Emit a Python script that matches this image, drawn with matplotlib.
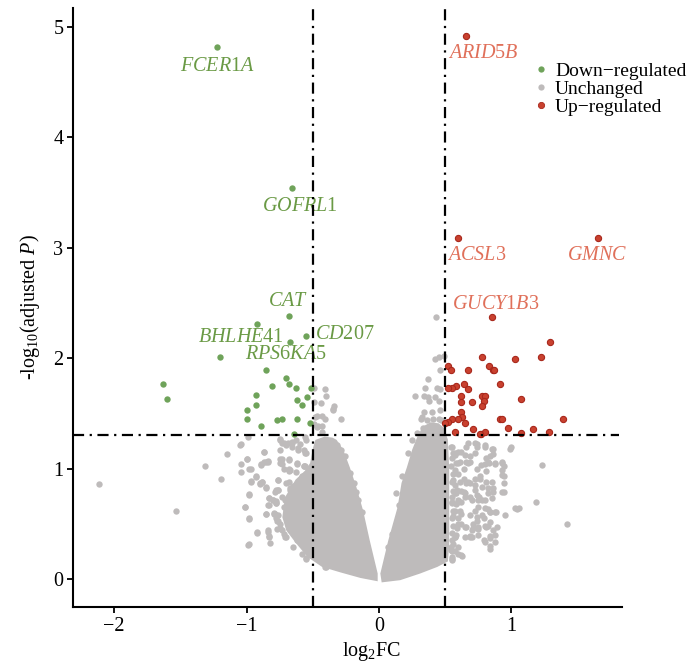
import numpy as np
import matplotlib
matplotlib.use("Agg")
import matplotlib.pyplot as plt
from matplotlib.lines import Line2D

plt.rcParams['font.family'] = ['Liberation Serif', 'DejaVu Serif']
plt.rcParams['mathtext.fontset'] = 'custom'
plt.rcParams['mathtext.rm'] = 'Liberation Serif'
plt.rcParams['mathtext.it'] = 'Liberation Serif:italic'
plt.rcParams['mathtext.bf'] = 'Liberation Serif:bold'

# significant genes (log2FC, -log10 adjusted P)
down_x = [-1.22, -0.66, -0.68, -0.92, -0.55, -0.67, -1.20, -0.85, -0.70, -0.68, -1.63,
          -0.81, -0.63, -0.51, -0.93, -0.54, -1.60, -0.62, -0.93, -0.58, -1.00, -1.00,
          -0.77, -0.73, -0.62, -0.89, -0.52, -0.64]
down_y = [4.82, 3.54, 2.38, 2.31, 2.20, 2.15, 2.01, 1.89, 1.82, 1.77, 1.77,
          1.75, 1.73, 1.73, 1.67, 1.65, 1.63, 1.62, 1.58, 1.58, 1.53, 1.45,
          1.44, 1.45, 1.45, 1.39, 1.41, 1.31]

up_x = [0.66, 0.60, 1.65, 0.85, 1.29, 0.78, 1.03, 1.22, 0.52, 0.54, 0.83, 0.86,
        0.67, 0.87, 0.64, 0.91, 0.58, 0.55, 0.52, 0.67, 0.62, 0.78, 0.80, 0.62,
        0.70, 0.79, 0.78, 1.07, 0.62, 0.63, 0.60, 0.55, 0.52, 0.50, 0.65, 0.91,
        0.93, 1.39, 0.71, 0.97, 1.16, 0.57, 0.77, 0.80, 1.07, 1.28, 0.76]
up_y = [4.92, 3.09, 3.09, 2.37, 2.15, 2.01, 1.99, 2.01, 1.93, 1.89, 1.93, 1.89,
        1.89, 1.89, 1.77, 1.77, 1.75, 1.73, 1.73, 1.72, 1.66, 1.66, 1.66, 1.60,
        1.60, 1.61, 1.57, 1.63, 1.51, 1.47, 1.45, 1.45, 1.42, 1.41, 1.41, 1.45,
        1.45, 1.45, 1.36, 1.37, 1.36, 1.33, 1.31, 1.33, 1.32, 1.33, 1.31]

# dense core of unchanged genes (outline of the solid cloud)
core_left_x = [-0.01, -0.14, -0.29, -0.43, -0.54, -0.63, -0.70, -0.73, -0.71, -0.63,
               -0.56, -0.52, -0.50, -0.48, -0.41, -0.35, -0.32, -0.27, -0.22, -0.17,
               -0.12, -0.07, -0.01]
core_left_y = [-0.02, 0.01, 0.06, 0.11, 0.20, 0.33, 0.44, 0.56, 0.74, 0.90,
               0.98, 1.05, 1.18, 1.26, 1.29, 1.28, 1.26, 1.17, 1.01, 0.83,
               0.62, 0.35, 0.05]
core_right_x = [0.01, 0.07, 0.14, 0.17, 0.21, 0.25, 0.29, 0.33, 0.39, 0.45,
                0.49, 0.52, 0.53, 0.53, 0.53, 0.52, 0.44, 0.31, 0.16, 0.02]
core_right_y = [0.05, 0.35, 0.65, 0.87, 1.01, 1.17, 1.29, 1.38, 1.42, 1.41,
                1.37, 1.26, 0.99, 0.62, 0.31, 0.16, 0.11, 0.05, -0.01, -0.03]

# scattered unchanged genes outside the core
gray_pts = [
    (-2.11, 0.86), (-1.53, 0.62), (-1.31, 1.02), (-1.19, 0.91), (-1.15, 1.13), (-1.04, 1.22),
    (-0.99, 1.29), (-1.04, 1.04), (-1.04, 0.97), (-1.00, 1.09), (-0.98, 1.00), (-0.97, 0.88),
    (-0.93, 0.92), (-0.98, 0.76), (-1.01, 0.65), (-0.98, 0.55), (-0.98, 0.32), (-0.92, 0.42),
    (-0.84, 0.43), (-0.83, 0.38), (-0.82, 0.33), (-0.90, 0.87), (-0.88, 0.88), (-0.89, 1.03),
    (-0.87, 1.06), (-0.85, 1.06), (-0.84, 1.07), (-0.87, 1.15), (-0.85, 0.82), (-0.83, 0.73),
    (-0.84, 0.67), (-0.85, 0.59), (-0.78, 0.71), (-0.79, 0.60), (-0.77, 0.53), (-0.76, 0.58),
    (-0.75, 0.46), (-0.72, 0.41), (-0.76, 0.90), (-0.76, 0.81), (-0.75, 1.26), (-0.72, 1.23),
    (-0.69, 1.23), (-0.66, 1.24), (-0.74, 1.08), (-0.73, 1.04), (-0.68, 1.08), (-0.67, 0.99),
    (-0.62, 1.04), (-0.63, 0.97), (-0.57, 1.02), (-0.61, 1.19), (-0.56, 1.14), (-0.55, 1.26),
    (-0.75, 1.17), (-0.67, 0.81), (-0.71, 0.72), (-0.65, 0.62), (-0.65, 0.29), (-0.62, 0.35),
    (-0.55, 0.19), (-0.40, 0.11), (-0.78, 0.81), (-0.80, 0.72), (-0.78, 0.69), (-0.79, 0.59),
    (-0.775, 0.55), (-0.745, 0.50), (-0.77, 0.455), (-0.70, 0.38), (-0.73, 1.09), (-0.72, 1.00),
    (-0.68, 0.98), (-0.66, 1.20), (-0.70, 1.21), (-0.63, 1.26), (-0.60, 1.22), (-0.57, 1.17),
    (-0.56, 1.02), (-0.61, 0.87), (-0.65, 0.84), (-0.68, 0.88), (-0.72, 0.65), (-0.67, 0.59),
    (-0.58, 0.23), (-0.55, 0.18), (-0.41, 0.11),
    (-1.05, 1.21), (-0.87, 1.15), (-1.00, 1.09), (-0.97, 1.00), (-0.89, 1.04), (-0.84, 1.06),
    (-0.97, 0.89), (-0.93, 0.93), (-0.90, 0.86), (-0.88, 0.88), (-0.85, 0.83), (-0.98, 0.77),
    (-0.83, 0.73), (-0.785, 0.79), (-0.76, 0.81), (-0.76, 0.90), (-0.80, 0.715), (-0.775, 0.69),
    (-0.83, 0.67), (-1.01, 0.65), (-0.85, 0.59), (-0.785, 0.59), (-0.76, 0.53), (-0.98, 0.54),
    (-0.73, 0.44), (-0.92, 0.43), (-0.84, 0.44), (-0.83, 0.39), (-0.99, 0.31), (-0.71, 0.38),
    (-0.75, 1.09), (-0.68, 1.09), (-0.75, 1.05), (-0.68, 1.00), (-0.62, 1.05), (-0.57, 1.02),
    (-0.61, 1.17), (-0.66, 1.23), (-0.73, 1.23), (-0.75, 1.27), (-0.56, 1.29), (-0.55, 1.14),
    (-0.58, 0.93), (-0.70, 0.87), (-0.67, 0.82), (-0.73, 0.745),
    (-0.49, 1.73), (-0.41, 1.72), (-0.40, 1.66), (-0.44, 1.59), (-0.34, 1.57), (-0.35, 1.54),
    (-0.47, 1.48), (-0.41, 1.45), (-0.29, 1.45), (-0.46, 1.39), (-0.43, 1.39), (-0.49, 1.40),
    (-0.43, 1.48), (-0.48, 1.47), (-0.47, 1.38), (-0.43, 1.33), (-0.49, 1.60), (-0.345, 1.53),
    (0.43, 2.37), (0.42, 1.99), (0.45, 2.01), (0.49, 2.02), (0.46, 1.89), (0.37, 1.81),
    (0.35, 1.73), (0.44, 1.73), (0.46, 1.72), (0.27, 1.66), (0.34, 1.66), (0.37, 1.65),
    (0.42, 1.65), (0.38, 1.61), (0.45, 1.61), (0.34, 1.51), (0.40, 1.51), (0.46, 1.53),
    (0.32, 1.45), (0.36, 1.44), (0.41, 1.45), (0.45, 1.45), (0.47, 1.44), (0.335, 1.37),
    (0.41, 1.37), (0.285, 1.32), (0.325, 1.47),
    (-0.29, 1.17), (-0.26, 1.11), (-0.22, 0.96), (-0.19, 0.87), (-0.17, 0.79), (-0.16, 0.72),
    (-0.13, 0.61), (-0.32, 1.21), (0.25, 1.26), (0.22, 1.14), (0.17, 0.93), (0.13, 0.78),
    (0.15, 0.67), (0.10, 0.41), (0.07, 0.29),
    (0.56, 1.14), (0.60, 1.15), (0.66, 1.20), (0.74, 1.22), (0.80, 1.21), (0.86, 1.13),
    (0.69, 1.11), (0.66, 1.06), (0.81, 1.10), (0.83, 1.05), (0.93, 1.06), (0.94, 1.02),
    (1.00, 1.20), (1.23, 1.03), (0.81, 0.98), (0.76, 0.91), (0.725, 0.85), (0.67, 0.88),
    (0.85, 0.875), (0.94, 0.93), (0.94, 0.87), (0.94, 0.79), (0.86, 0.82), (0.85, 0.73),
    (0.80, 0.72), (0.755, 0.74), (0.69, 0.745), (0.64, 0.79), (0.825, 0.63), (0.875, 0.61),
    (0.95, 0.58), (1.03, 0.64), (1.06, 0.645), (1.185, 0.70), (1.42, 0.50), (0.82, 0.48),
    (0.80, 0.48), (0.86, 0.44), (0.74, 0.56), (0.71, 0.50), (0.66, 0.47), (0.69, 0.38),
    (0.79, 0.35), (0.875, 0.34), (0.84, 0.27), (0.62, 0.22), (0.57, 0.25),
    (0.67, 1.23), (0.725, 1.23), (0.85, 1.18), (0.99, 1.18), (0.62, 1.15), (0.57, 1.12),
    (0.69, 1.06), (0.60, 1.05), (0.54, 1.02), (0.74, 1.00), (0.77, 1.03), (0.82, 1.06),
    (0.875, 1.05), (0.93, 0.99), (0.64, 0.91), (0.69, 0.87), (0.57, 0.85), (0.585, 0.81),
    (0.725, 0.805), (0.65, 0.775), (0.825, 0.775), (0.75, 0.715), (0.60, 0.715), (0.55, 0.685),
    (0.725, 0.62), (0.775, 0.58), (0.84, 0.61), (1.04, 0.63), (0.62, 0.50), (0.71, 0.46),
    (0.75, 0.45), (0.84, 0.52), (0.89, 0.47), (0.80, 0.34), (0.84, 0.37), (0.65, 0.38),
    (0.70, 0.38), (0.56, 0.32), (0.60, 0.29), (0.63, 0.21), (0.57, 0.38), (0.54, 0.26),
    (0.55, 0.20), (0.55, 1.20), (0.55, 1.10), (0.56, 0.95), (0.56, 0.90), (0.56, 0.80),
    (0.58, 0.78), (0.55, 0.70), (0.57, 0.62), (0.55, 0.55), (0.56, 0.48), (0.55, 0.42),
    (0.58, 0.40), (0.55, 0.35), (0.55, 0.25), (0.58, 1.05), (0.60, 0.95), (0.60, 0.55),
    (0.62, 0.70), (0.55, 0.18), (0.58, 0.68), (0.61, 0.62), (0.56, 0.57), (0.59, 0.46),
    (0.55, 0.88), (0.55, 0.74),
    (0.54, 1.20), (0.57, 1.14), (0.61, 1.06), (0.65, 1.12), (0.67, 1.05), (0.64, 1.00),
    (0.57, 0.99), (0.61, 0.88), (0.66, 0.87), (0.62, 0.80), (0.57, 0.775), (0.60, 0.70),
    (0.65, 0.745), (0.70, 0.715), (0.74, 0.76), (0.775, 0.715), (0.75, 0.65), (0.80, 0.64),
    (0.84, 0.61), (0.88, 0.61), (0.56, 0.62), (0.62, 0.59), (0.69, 0.58), (0.74, 0.53),
    (0.79, 0.55), (0.60, 0.50), (0.65, 0.47), (0.70, 0.44), (0.75, 0.47), (0.81, 0.47),
    (0.75, 0.40), (0.69, 0.39), (0.57, 0.38), (0.54, 0.29), (0.60, 0.23), (0.55, 0.17),
    (0.84, 0.39), (0.875, 0.40), (0.84, 0.30), (0.93, 0.79), (0.93, 0.94), (0.93, 1.05),
    (0.875, 1.04), (0.84, 1.11), (0.80, 1.04), (0.86, 1.18), (0.80, 1.20), (0.725, 1.14),
    (0.74, 1.20), (0.76, 0.93), (0.725, 0.91), (0.81, 0.88), (0.82, 0.82), (0.775, 0.835),
    (0.86, 0.79),
]
gray_x = [p[0] for p in gray_pts]
gray_y = [p[1] for p in gray_pts]

# labelled genes: name, (label x, label y)
labels_down = [("FCER1A", -1.22, 4.64), ("GOFRL1", -0.60, 3.37), ("CAT", -0.69, 2.51),
               ("BHLHE41", -1.04, 2.19), ("CD207", -0.26, 2.21), ("RPS6KA5", -0.70, 2.03)]
labels_up = [("ARID5B", 0.79, 4.76), ("ACSL3", 0.74, 2.93), ("GMNC", 1.65, 2.93),
             ("GUCY1B3", 0.88, 2.49)]

gray_col = '#bebbbb'
green_col = '#6fa35a'
green_txt = '#6a9a45'
red_col = '#c9412f'
red_edge = '#a8281c'
red_txt = '#e0705a'

fig = plt.figure(figsize=(6.9, 6.68), dpi=100)
ax = fig.add_axes([0.1058, 0.0913, 0.7956, 0.8967])

ax.fill(core_left_x, core_left_y, color=gray_col, lw=0, zorder=1)
ax.fill(core_right_x, core_right_y, color=gray_col, lw=0, zorder=1)
ax.scatter(gray_x, gray_y, s=21, color=gray_col, lw=0, zorder=2)
ax.scatter(down_x, down_y, s=21, color=green_col, lw=0, zorder=3)
ax.scatter(up_x, up_y, s=20, color=red_col, edgecolor=red_edge, lw=0.8, zorder=3)

for name, lx, ly in labels_down:
    ax.text(lx, ly, '$' + name + '$', color=green_txt, fontsize=14.5,
            ha='center', va='center', zorder=4)
for name, lx, ly in labels_up:
    ax.text(lx, ly, '$' + name + '$', color=red_txt, fontsize=14.5,
            ha='center', va='center', zorder=4)

dash = (5, 2.5, 1, 2.5)
ax.axvline(-0.5, color='black', lw=1.6, dashes=dash, zorder=5)
ax.axvline(0.5, color='black', lw=1.6, dashes=dash, zorder=5)
ax.plot([-2.31, 1.81], [1.301, 1.301], color='black', lw=1.6, dashes=dash, zorder=5)

ax.set_xlim(-2.31, 1.834)
ax.set_ylim(-0.253, 5.17)
ax.set_xticks([-2, -1, 0, 1])
ax.set_yticks([0, 1, 2, 3, 4, 5])
for side in ['top', 'right']:
    ax.spines[side].set_visible(False)
for side in ['left', 'bottom']:
    ax.spines[side].set_linewidth(1.5)
ax.tick_params(axis='both', length=4, width=1.3, labelsize=14.5, colors='black', pad=3)

ax.set_xlabel(r'$\mathrm{log}_2\mathrm{FC}$', fontsize=14.5, labelpad=6)
ax.xaxis.set_label_coords(0.543, -0.055)
ax.set_ylabel(r'-$\mathrm{log}_{10}(\mathrm{adjusted}\ P)$', fontsize=14.5, labelpad=8)

handles = [
    Line2D([], [], marker='o', ls='', markersize=4.5, color=green_col, mew=0),
    Line2D([], [], marker='o', ls='', markersize=4.5, color=gray_col, mew=0),
    Line2D([], [], marker='o', ls='', markersize=4.5, color=red_col, mec=red_edge, mew=0.6),
]
fig.legend(handles, ['Down\u2212regulated', 'Unchanged', 'Up\u2212regulated'],
           loc='upper left', bbox_to_anchor=(0.775, 0.907), frameon=False,
           fontsize=14, handlelength=0.62, handletextpad=0.42, labelspacing=0.03,
           borderpad=0, borderaxespad=0)

fig.savefig('out.png', dpi=100)
